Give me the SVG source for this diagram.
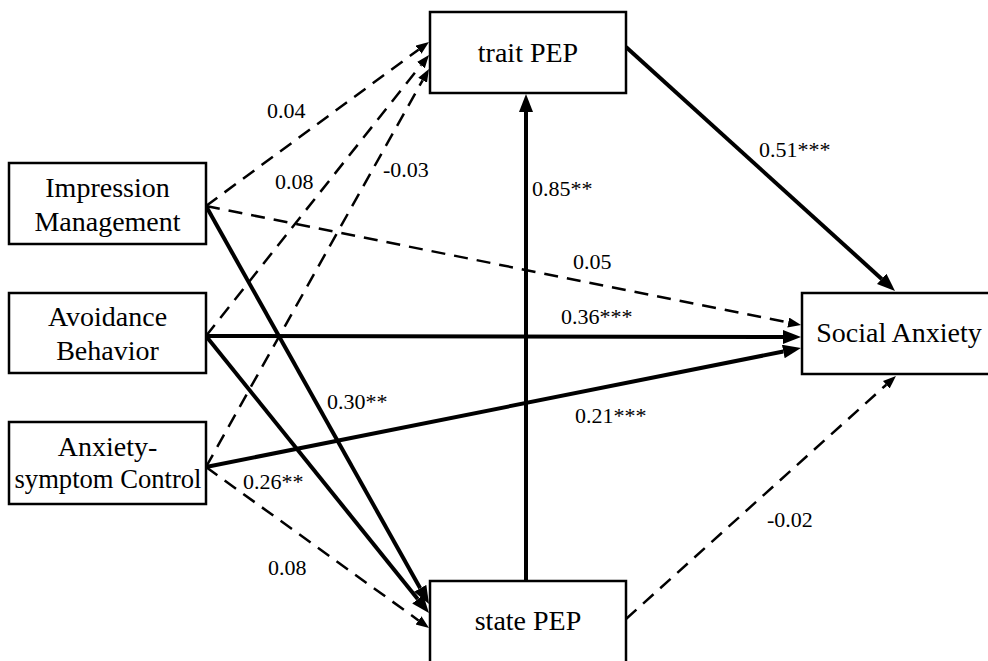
<svg xmlns="http://www.w3.org/2000/svg" width="988" height="661" viewBox="0 0 988 661">
<style>
.box{fill:#fff;stroke:#000;stroke-width:2.5}
.nt{font-family:'Liberation Serif','Times New Roman',serif;font-size:28px;fill:#000;text-anchor:middle}
.lb{font-family:'Liberation Serif','Times New Roman',serif;font-size:22px;fill:#000}
.s{stroke:#000;stroke-width:4;fill:none}
.d{stroke:#000;stroke-width:2.5;fill:none;stroke-dasharray:14 9}
</style>
<defs>
<marker id="as" markerUnits="userSpaceOnUse" markerWidth="20" markerHeight="16" refX="0" refY="7" orient="auto"><path d="M0,0 L18,7 L0,14 z" fill="#000"/></marker>
<marker id="ad" markerUnits="userSpaceOnUse" markerWidth="15" markerHeight="12" refX="0" refY="5" orient="auto"><path d="M0,0 L13,5 L0,10 z" fill="#000"/></marker>
</defs>
<rect width="988" height="661" fill="#fff"/>
<g id="connectors">
<line class="d" x1="206" y1="206" x2="418.5" y2="49.7" marker-end="url(#ad)"/>
<line class="d" x1="206" y1="336" x2="420.9" y2="65.2" marker-end="url(#ad)"/>
<line class="d" x1="206" y1="467" x2="422.6" y2="80.3" marker-end="url(#ad)"/>
<line class="d" x1="206" y1="206" x2="788.3" y2="322.5" marker-end="url(#ad)"/>
<line class="s" x1="206" y1="336" x2="783" y2="337" marker-end="url(#as)"/>
<line class="s" x1="206" y1="467" x2="783.3" y2="351.5" marker-end="url(#as)"/>
<line class="s" x1="206" y1="206" x2="420.2" y2="588.3" marker-end="url(#as)"/>
<line class="s" x1="206" y1="336" x2="417.7" y2="599" marker-end="url(#as)"/>
<line class="d" x1="206" y1="467" x2="418.5" y2="620.4" marker-end="url(#ad)"/>
<line class="s" x1="526" y1="580" x2="526" y2="112" marker-end="url(#as)"/>
<line class="s" x1="626" y1="47" x2="881.7" y2="278.9" marker-end="url(#as)"/>
<line class="d" x1="626" y1="619" x2="886.3" y2="384.7" marker-end="url(#ad)"/>
</g>
<g id="labels">
<text class="lb" x="267" y="118">0.04</text>
<text class="lb" x="275" y="189">0.08</text>
<text class="lb" x="383" y="177">-0.03</text>
<text class="lb" x="532" y="196">0.85**</text>
<text class="lb" x="759" y="157">0.51***</text>
<text class="lb" x="573" y="269">0.05</text>
<text class="lb" x="561" y="324">0.36***</text>
<text class="lb" x="327" y="409">0.30**</text>
<text class="lb" x="243" y="489">0.26**</text>
<text class="lb" x="268" y="575">0.08</text>
<text class="lb" x="575" y="423">0.21***</text>
<text class="lb" x="767" y="527">-0.02</text>
</g>
<g id="trait-pep"><rect class="box" x="430" y="12" width="196" height="81"/><text class="nt" x="528" y="62">trait PEP</text></g>
<g id="state-pep"><rect class="box" x="430" y="581" width="196" height="90"/><text class="nt" x="528" y="630">state PEP</text></g>
<g id="impression-management"><rect class="box" x="9" y="163" width="197" height="81"/><text class="nt" x="107.5" y="197">Impression</text><text class="nt" x="107.5" y="231">Management</text></g>
<g id="avoidance-behavior"><rect class="box" x="9" y="293" width="197" height="80"/><text class="nt" x="107.5" y="326">Avoidance</text><text class="nt" x="107.5" y="360">Behavior</text></g>
<g id="anxiety-symptom-control"><rect class="box" x="9" y="422" width="197" height="82"/><text class="nt" x="107.5" y="456">Anxiety-</text><text class="nt" x="108" y="488" textLength="187" lengthAdjust="spacingAndGlyphs">symptom Control</text></g>
<g id="social-anxiety"><rect class="box" x="802" y="293" width="200" height="81"/><text class="nt" x="899" y="342">Social Anxiety</text></g>
</svg>
